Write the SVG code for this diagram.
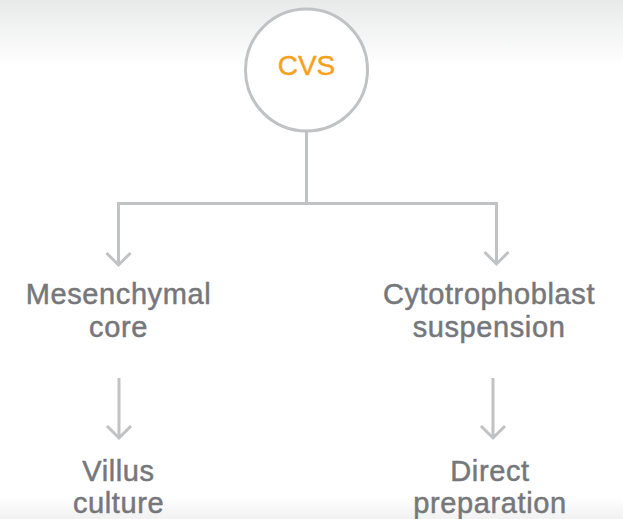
<svg xmlns="http://www.w3.org/2000/svg" width="623" height="519" viewBox="0 0 623 519">
<defs>
<linearGradient id="bgTop" x1="0" y1="0" x2="0" y2="1">
<stop offset="0" stop-color="#e8e9e9"/>
<stop offset="1" stop-color="#ffffff"/>
</linearGradient>
<linearGradient id="bgBot" x1="0" y1="0" x2="0" y2="1">
<stop offset="0" stop-color="#ffffff"/>
<stop offset="1" stop-color="#f1f1f1"/>
</linearGradient>
<style>
.conn{fill:none;stroke:#c1c2c4;stroke-width:3}
.lbl{font-family:"Liberation Sans",Arial,Helvetica,sans-serif;font-size:29px;fill:#76777a;stroke:#76777a;stroke-width:0.5;text-anchor:middle;letter-spacing:0.6px}
.ttl{font-family:"Liberation Sans",Arial,Helvetica,sans-serif;font-size:28px;fill:#f7a11a;stroke:#f7a11a;stroke-width:0.4;text-anchor:middle}
</style>
</defs>
<rect x="0" y="0" width="623" height="519" fill="#ffffff"/>
<rect x="0" y="0" width="623" height="65" fill="url(#bgTop)"/>
<rect x="0" y="498" width="623" height="21" fill="url(#bgBot)"/>
<g id="connectors">
<path class="conn" d="M306.5 131 V203.5 M118.5 265 V203.5 H496.5 V264"/>
<path class="conn" d="M106.5 253 L118.5 265 L130.5 253"/>
<path class="conn" d="M484.5 252 L496.5 264 L508.5 252"/>
<path class="conn" d="M119 378 V438 M107 426 L119 438 L131 426"/>
<path class="conn" d="M493 378 V438 M481 426 L493 438 L505 426"/>
</g>
<g id="cvs">
<circle cx="306.5" cy="70" r="61" fill="#ffffff" stroke="#c1c2c4" stroke-width="3"/>
<text class="ttl" x="306.5" y="75">CVS</text>
</g>
<g id="mesenchymal">
<text class="lbl" x="118.5" y="304">Mesenchymal</text>
<text class="lbl" x="118.5" y="337">core</text>
</g>
<g id="cytotrophoblast">
<text class="lbl" x="489" y="304">Cytotrophoblast</text>
<text class="lbl" x="489" y="337">suspension</text>
</g>
<g id="villus">
<text class="lbl" x="118.5" y="481">Villus</text>
<text class="lbl" x="118.5" y="513">culture</text>
</g>
<g id="direct">
<text class="lbl" x="490" y="481">Direct</text>
<text class="lbl" x="490" y="513">preparation</text>
</g>
</svg>
